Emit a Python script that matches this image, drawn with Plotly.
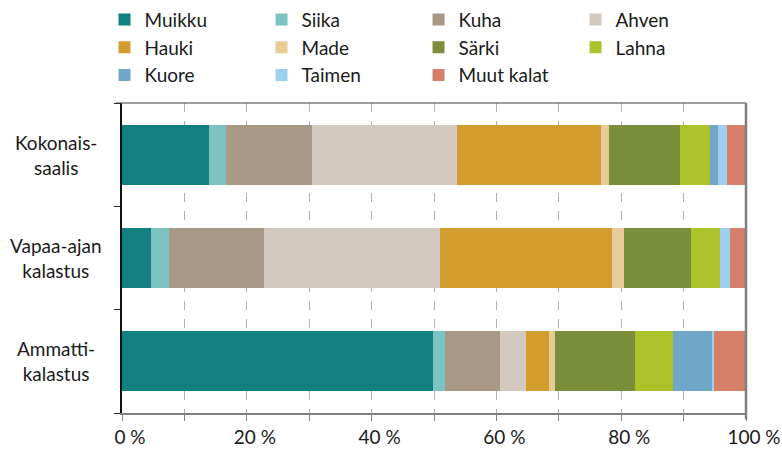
import plotly.graph_objects as go

categories = ["Kokonais-<br>saalis", "Vapaa-ajan<br>kalastus", "Ammatti-<br>kalastus"]
series_names = ["Muikku", "Siika", "Kuha", "Ahven", "Hauki", "Made",
                "Särki", "Lahna", "Kuore", "Taimen", "Muut kalat"]
colors = ["#11807f", "#7cc4c2", "#a89987", "#d4c9bf", "#d29d2e", "#e8cb96",
          "#7b8f3b", "#acc22b", "#70a6c8", "#9dd0ee", "#d6806a"]

# percent shares per category (Kokonaissaalis, Vapaa-ajan kalastus, Ammattikalastus)
muikku = [13.9, 4.6, 49.9]
siika = [2.7, 2.9, 1.9]
kuha = [13.9, 15.2, 8.8]
ahven = [23.2, 28.2, 4.2]
hauki = [23.0, 27.7, 3.7]
made = [1.4, 1.9, 0.9]
sarki = [11.4, 10.7, 12.8]
lahna = [4.7, 4.6, 6.1]
kuore = [1.3, 0.0, 6.4]
taimen = [1.4, 1.6, 0.15]
muut = [3.1, 2.6, 5.2]

series_values = [muikku, siika, kuha, ahven, hauki, made, sarki, lahna, kuore, taimen, muut]

x_tickvals = list(range(0, 101, 10))
x_ticktext = ["0 %", "", "20 %", "", "40 %", "", "60 %", "", "80 %", "", "100 %"]

FONT = "Lato"
TXT = "#1a1a1a"

fig = go.Figure()
for name, vals, col in zip(series_names, series_values, colors):
    fig.add_trace(go.Bar(
        y=categories, x=vals, name=name, orientation="h",
        marker=dict(color=col, line=dict(width=0)),
        hoverinfo="name+x",
    ))

fig.update_layout(
    barmode="stack",
    bargap=0.42,
    width=782, height=450,
    margin=dict(l=121.5, r=36.3, t=102.7, b=36.7, autoexpand=False),
    paper_bgcolor="white", plot_bgcolor="white",
    font=dict(family=FONT, size=19, color=TXT),
    showlegend=True,
    legend=dict(
        orientation="h", x=-0.028, y=1.33, xanchor="left", yanchor="top",
        entrywidth=112, entrywidthmode="pixels", traceorder="normal",
        font=dict(family=FONT, size=19, color=TXT),
        bgcolor="rgba(0,0,0,0)", borderwidth=0,
        itemclick=False, itemdoubleclick=False,
    ),
    xaxis=dict(
        range=[0, 100], tickvals=x_tickvals, ticktext=x_ticktext,
        showgrid=True, gridcolor="#b0b0b0", griddash="dash", gridwidth=1,
        showline=True, linecolor="#808080", linewidth=2,
        ticks="outside", ticklen=6, tickcolor="#808080", tickwidth=1,
        ticklabelshift=8,
        tickfont=dict(family=FONT, size=19, color=TXT),
        zeroline=False, fixedrange=True,
    ),
    yaxis=dict(
        type="category", categoryorder="array",
        categoryarray=list(reversed(categories)),
        tickson="boundaries", ticks="outside", ticklen=6, tickcolor="#222",
        showticklabels=False, showgrid=False,
        showline=True, linecolor="#111", linewidth=1.5,
        zeroline=False, fixedrange=True,
    ),
    shapes=[
        dict(type="line", xref="paper", yref="paper", x0=-0.01, x1=1, y0=1, y1=1,
             line=dict(color="#404040", width=1)),
        dict(type="line", xref="paper", yref="paper", x0=1, x1=1, y0=-0.02, y1=1,
             line=dict(color="#808080", width=2.5)),
    ],
)

for cat in categories:
    fig.add_annotation(
        x=-0.1065, xref="paper", y=cat, yref="y", text=cat,
        showarrow=False, xanchor="center", yanchor="middle", align="center",
        font=dict(family=FONT, size=19, color=TXT),
    )

fig.write_html("out.html", config={"displayModeBar": False},
               post_script="document.body.style.margin='0';")
